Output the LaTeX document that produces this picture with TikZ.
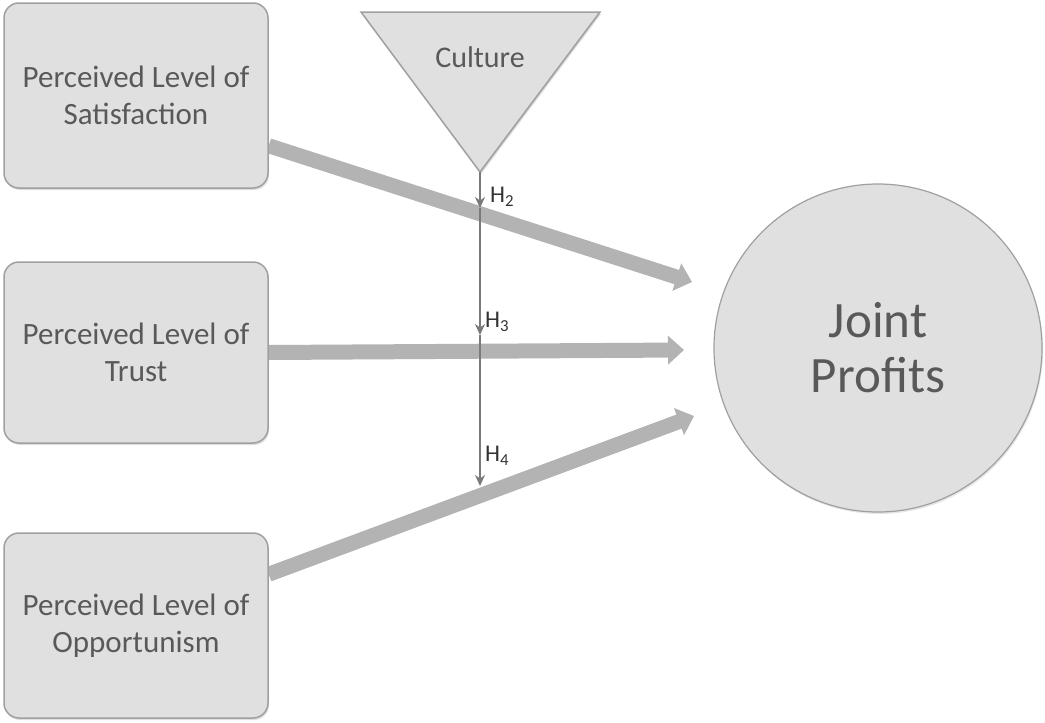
\documentclass[tikz,border=0pt]{standalone}
\usepackage{fontspec}
\setmainfont{Carlito}
\usetikzlibrary{arrows.meta,shadows}
\pgfdeclarelayer{bg}
\pgfsetlayers{bg,main}
\definecolor{txt}{HTML}{595959}
\definecolor{boxfill}{HTML}{E0E0E0}
\definecolor{boxline}{HTML}{A0A0A0}
\definecolor{arrowgray}{HTML}{B3B3B3}
\definecolor{linegray}{HTML}{7A7A7A}
\tikzset{
  factorbox/.style={draw=boxline, line width=1.5pt, fill=boxfill, rounded corners=15pt,
    minimum width=264pt, minimum height=185pt, align=center, text=txt,
    font=\fontsize{31}{37}\selectfont, inner sep=0pt,
    drop shadow={shadow xshift=1pt, shadow yshift=-2pt, opacity=0.25}},
  bigarrow/.style={draw=arrowgray, line width=15pt,
    -{Triangle[length=16pt,width=28pt]}},
  modline/.style={draw=linegray, line width=2.8pt,
    -{Stealth[length=11pt,width=10pt]}},
  hlabel/.style={text=black!80, font=\fontsize{24}{26}\selectfont, inner sep=0pt},
}
\begin{document}
\begin{tikzpicture}[x=1pt,y=-1pt]
\useasboundingbox (0,0) rectangle (1045,723);
% nodes
\node[factorbox] (s1) at (136,95.5) {Perceived Level of\\Satisfaction};
\node[factorbox, minimum height=181pt] (s2) at (136,352.5) {Perceived Level of\\Trust};
\node[factorbox] (s3) at (136,625.5) {Perceived Level of\\Opportunism};
\node[circle, draw=boxline, line width=1.2pt, fill=boxfill, minimum size=328pt, inner sep=0pt,
  align=center, text=txt, font=\fontsize{51}{55}\selectfont,
  drop shadow={shadow xshift=1pt, shadow yshift=-2pt, opacity=0.2}] (jp) at (878,348) {Joint\\Profits};
% arrow end points
\coordinate (a1s) at ([yshift=43pt]s1.south east);
\coordinate (a1e) at (692,282);
\coordinate (a2e) at (684,350);
\coordinate (a3s) at ([yshift=-42pt]s3.north east);
\coordinate (a3e) at (694,416);
% thick arrows, behind the boxes
\begin{pgfonlayer}{bg}
\draw[bigarrow] (a1s) -- (a1e);
\draw[bigarrow] (s2.east) -- (a2e);
\draw[bigarrow] (a3s) -- (a3e);
\end{pgfonlayer}
% culture triangle
\coordinate (t1) at (361,12);
\coordinate (t2) at (600,12);
\coordinate (apex) at (480,172);
\fill[black, opacity=0.15] ([xshift=1pt,yshift=-2pt]t1) -- ([xshift=1pt,yshift=-2pt]t2) -- ([xshift=1pt,yshift=-2pt]apex) -- cycle;
\draw[draw=boxline, line width=1.5pt, fill=boxfill, line join=miter] (t1) -- (t2) -- (apex) -- cycle;
\node[text=txt, font=\fontsize{30}{34}\selectfont] (cul) at (480,57) {Culture};
% moderating line
\coordinate (h2) at (480,208);
\coordinate (h3) at (480,335);
\coordinate (h4) at (480,486);
\draw[modline] (apex) -- (h2);
\draw[modline] (h2) -- (h3);
\draw[modline] (h3) -- (h4);
\node[hlabel, anchor=west] (l2) at (490,197) {H\textsubscript{2}};
\node[hlabel, anchor=west] (l3) at (485,322) {H\textsubscript{3}};
\node[hlabel, anchor=west] (l4) at (485,456) {H\textsubscript{4}};
\end{tikzpicture}
\end{document}
